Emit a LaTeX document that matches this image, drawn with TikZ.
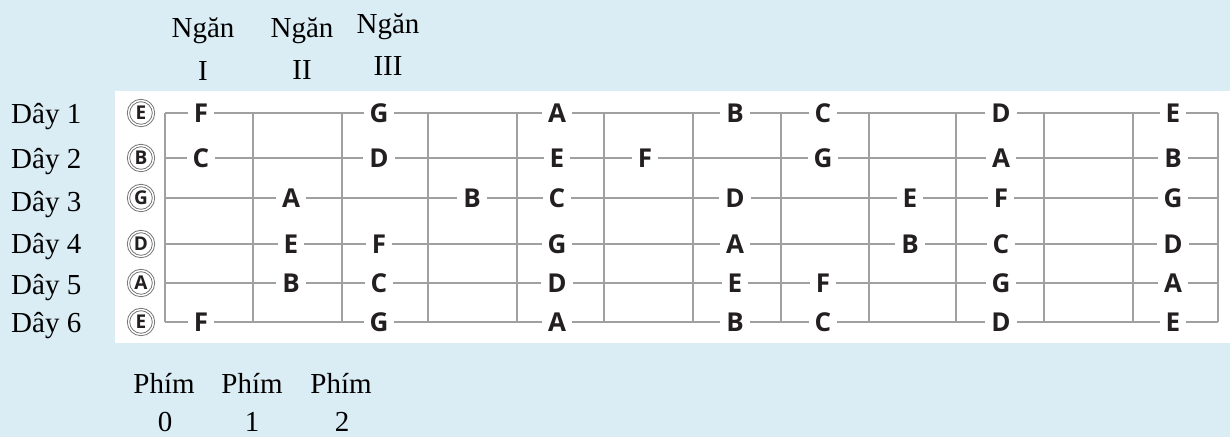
\documentclass[tikz,border=0pt]{standalone}
\usepackage{fontspec}
\setmainfont{Liberation Serif}
\newfontfamily\notefont{Open Sans}[UprightFont=* Bold]
\definecolor{bg}{HTML}{DBEDF4}
\definecolor{gridc}{HTML}{A0A0A0}
\definecolor{ink}{HTML}{231F20}
\begin{document}
\begin{tikzpicture}[x=1pt,y=-1pt,
  lbl/.style={font=\fontsize{29}{32}\selectfont, inner sep=0pt, text=black},
  note/.style={font=\notefont\fontsize{26}{28}\selectfont, text=ink, fill=white, inner xsep=6pt, inner ysep=1pt},
  gridline/.style={draw=gridc, line width=2pt},
  openstr/.style={circle, draw=gridc!70!black, double=white, double distance=1.4pt, line width=0.9pt, minimum size=25pt, inner sep=0pt, font=\notefont\fontsize{19}{20}\selectfont, text=ink}]
\useasboundingbox (0,0) rectangle (1230,437);
\fill[bg] (0,0) rectangle (1230,437);
\fill[white] (115,91) rectangle (1230,343);
% frets
\foreach \j/\x in {0/165,1/253,2/342,3/428,4/517,5/604,6/693,7/781,8/869,9/956,10/1044,11/1133,12/1218}{
  \coordinate (fT\j) at (\x,113);
  \coordinate (fB\j) at (\x,322);
  \draw[gridline] (fT\j) -- (fB\j);
}
% strings
\foreach \s/\y in {1/113,2/158,3/198,4/244,5/283,6/322}{
  \coordinate (sL\s) at (165,\y);
  \coordinate (sR\s) at (1218,\y);
  \draw[gridline] (sL\s) -- (sR\s);
}
% notes
\foreach \s/\y/\notes in {
  1/113/{1/F,3/G,5/A,7/B,8/C,10/D,12/E},
  2/158/{1/C,3/D,5/E,6/F,8/G,10/A,12/B},
  3/198/{2/A,4/B,5/C,7/D,9/E,10/F,12/G},
  4/244/{2/E,3/F,5/G,7/A,9/B,10/C,12/D},
  5/283/{2/B,3/C,5/D,7/E,8/F,10/G,12/A},
  6/322/{1/F,3/G,5/A,7/B,8/C,10/D,12/E}}{
  \foreach \k/\n in \notes {
    \pgfmathsetmacro\nx{{201,291,379,472,557,645,735,823,910,1001,1088,1173}[\k-1]}
    \node[note] (n\s-\k) at (\nx,\y) {\n};
  }
}
% open strings
\foreach \s/\y/\n in {1/113/E,2/158/B,3/198/G,4/244/D,5/283/A,6/322/E}{
  \node[openstr] (o\s) at (141,\y) {\n};
}
% string labels
\foreach \s/\b in {1/123,2/168,3/211,4/253,5/294,6/332}{
  \node[lbl, anchor=base west] (d\s) at (11,\b) {Dây \s};
}
% Ngan labels
\node[lbl, anchor=base] (ng1) at (203,37) {Ngăn};
\node[lbl, anchor=base] (ng2) at (302,37) {Ngăn};
\node[lbl, anchor=base] (ng3) at (388,33) {Ngăn};
\node[lbl, anchor=base] (r1) at (203,80) {I};
\node[lbl, anchor=base] (r2) at (302,79) {II};
\node[lbl, anchor=base] (r3) at (388,75) {III};
% Phim labels
\node[lbl, anchor=base] (p0) at (164,393) {Phím};
\node[lbl, anchor=base] (p1) at (252,393) {Phím};
\node[lbl, anchor=base] (p2) at (341,393) {Phím};
\node[lbl, anchor=base] (q0) at (165,431) {0};
\node[lbl, anchor=base] (q1) at (252,431) {1};
\node[lbl, anchor=base] (q2) at (342,431) {2};
\end{tikzpicture}
\end{document}
